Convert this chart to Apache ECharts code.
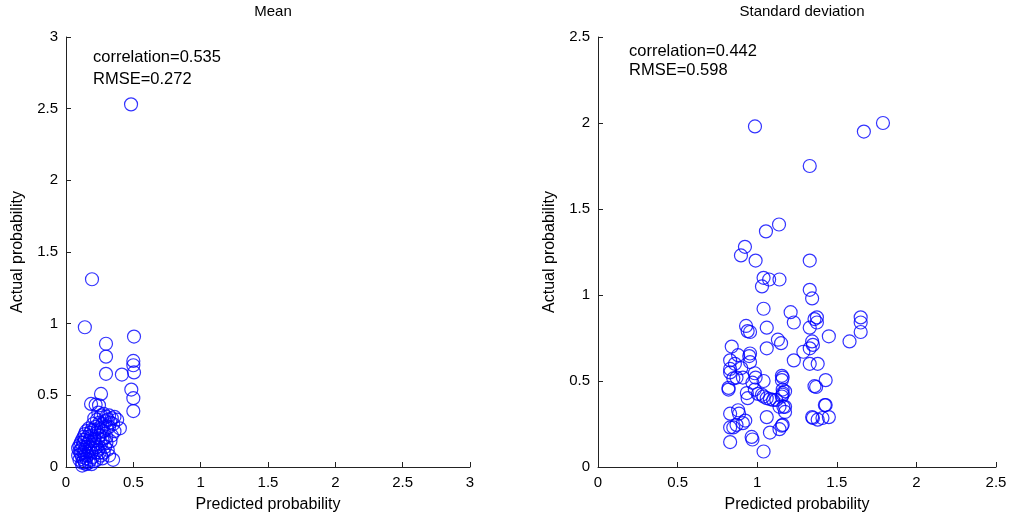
<!DOCTYPE html>
<html><head><meta charset="utf-8">
<script src="https://cdn.jsdelivr.net/npm/echarts@6/dist/echarts.min.js"></script>
<style>html,body{margin:0;padding:0;background:#fff}#c{width:1017px;height:521px}</style>
</head><body><div id="c"></div>
<script>
const titles = ["Mean", "Standard deviation"];
const statTexts = [["correlation=0.535", "RMSE=0.272"], ["correlation=0.442", "RMSE=0.598"]];
const xName = "Predicted probability";
const yName = "Actual probability";
const meanTicks = [0, 0.5, 1, 1.5, 2, 2.5, 3];
const sdTicks = [0, 0.5, 1, 1.5, 2, 2.5];

const meanPoints = [
[0.483,2.53],[0.193,1.31],[0.14,0.975],[0.505,0.91],[0.297,0.86],[0.297,0.77],[0.297,0.65],[0.50,0.74],[0.50,0.71],[0.505,0.66],[0.415,0.645],[0.485,0.54],[0.50,0.48],[0.50,0.39],[0.26,0.51],[0.186,0.44],[0.245,0.43],[0.22,0.435],
[0.24,0.38],[0.26,0.36],[0.28,0.37],[0.30,0.35],[0.32,0.36],[0.34,0.34],[0.36,0.35],[0.38,0.33],[0.33,0.31],[0.35,0.30],[0.31,0.33],[0.29,0.32],[0.27,0.30],[0.25,0.31],[0.23,0.33],[0.21,0.34],[0.20,0.30],[0.22,0.28],[0.24,0.27],[0.26,0.26],[0.28,0.25],[0.30,0.27],[0.32,0.28],[0.40,0.27],[0.36,0.25],[0.34,0.22],[0.30,0.21],[0.27,0.19],[0.25,0.22],[0.23,0.24],[0.19,0.26],[0.17,0.27],[0.15,0.25],[0.14,0.23],[0.13,0.21],[0.12,0.19],[0.11,0.17],[0.10,0.15],[0.09,0.13],[0.10,0.11],[0.11,0.09],[0.12,0.07],[0.13,0.05],[0.14,0.03],[0.15,0.02],[0.12,0.03],[0.13,0.10],[0.14,0.12],[0.15,0.14],[0.16,0.16],[0.17,0.18],[0.18,0.20],[0.19,0.22],[0.20,0.18],[0.21,0.20],[0.22,0.16],[0.23,0.14],[0.24,0.12],[0.25,0.10],[0.26,0.08],[0.27,0.06],[0.28,0.10],[0.29,0.14],[0.30,0.17],[0.31,0.12],[0.32,0.08],[0.35,0.05],[0.33,0.18],[0.18,0.14],[0.17,0.11],[0.16,0.08],[0.15,0.06],[0.18,0.05],[0.20,0.07],[0.21,0.04],[0.19,0.10],[0.20,0.13],[0.22,0.10],[0.10,0.05],[0.11,0.12],[0.12,0.14],[0.09,0.08],[0.13,0.17],[0.14,0.19],[0.16,0.21],[0.18,0.24],[0.21,0.26],[0.24,0.20],[0.26,0.16],[0.28,0.20],[0.12,0.01],[0.14,0.08],[0.17,0.03],[0.23,0.05],[0.19,0.02]
];

const sdPoints = [
[0.986,1.98],[1.67,1.95],[1.79,2.00],[1.33,1.75],[1.137,1.41],[1.055,1.37],[0.923,1.28],[0.898,1.23],[0.99,1.20],[1.33,1.20],
[1.04,1.10],[1.075,1.09],[1.14,1.09],[1.03,1.05],[1.33,1.03],[1.345,0.98],[1.04,0.92],[1.21,0.90],[1.23,0.84],[1.06,0.81],
[1.33,0.81],[1.36,0.86],[1.375,0.87],[1.375,0.84],[0.93,0.82],[0.94,0.79],[0.955,0.785],[1.13,0.74],[1.15,0.72],[0.84,0.70],
[1.345,0.73],[1.35,0.71],[1.33,0.69],[1.29,0.67],[1.06,0.69],[0.955,0.66],[0.95,0.645],[0.88,0.65],[0.83,0.62],[0.955,0.61],
[1.23,0.62],[1.33,0.60],[1.38,0.60],[1.65,0.87],[1.65,0.84],[1.65,0.785],[1.58,0.73],[1.45,0.76],[1.43,0.505],[1.36,0.47],
[1.37,0.465],[1.43,0.36],[1.345,0.29],[1.38,0.275],[1.41,0.285],[1.45,0.29],[1.16,0.52],[1.16,0.45],[1.16,0.42],[1.175,0.35],
[1.175,0.32],[1.16,0.245],[0.83,0.55],[0.90,0.575],[0.87,0.52],[0.85,0.515],[0.82,0.46],[0.82,0.45],[0.91,0.52],[0.985,0.545],
[0.99,0.52],[0.97,0.49],[1.04,0.50],[1.155,0.53],[1.155,0.505],[0.985,0.45],[1.005,0.425],[1.03,0.42],[1.04,0.41],[1.06,0.40],
[1.08,0.395],[1.10,0.39],[1.12,0.39],[1.155,0.41],[1.175,0.44],[1.16,0.43],[1.14,0.35],[1.165,0.35],[0.935,0.43],[0.94,0.40],
[0.88,0.33],[0.886,0.31],[0.83,0.31],[0.925,0.27],[0.91,0.255],[0.87,0.245],[0.85,0.23],[0.83,0.23],[1.06,0.29],[0.965,0.175],
[0.97,0.16],[1.08,0.20],[1.155,0.24],[1.14,0.22],[0.83,0.145],[1.04,0.09],[1.35,0.285],[1.425,0.36],[0.83,0.57],[0.86,0.60]
];

const FONT = "Liberation Sans";
const chart = echarts.init(document.getElementById('c'), null, {renderer: 'canvas'});

function axisCommon(ticks, name, gap, rotate) {
  return {
    type: 'value', min: ticks[0], max: ticks[ticks.length - 1], interval: ticks[1] - ticks[0],
    name: name, nameLocation: 'middle', nameGap: gap, nameRotate: rotate,
    nameTextStyle: {color: '#000', fontFamily: FONT, fontSize: 16},
    axisLine: {show: true, onZero: false, lineStyle: {color: '#222', width: 1}},
    axisTick: {show: true, inside: true, length: 5, lineStyle: {color: '#222'}},
    axisLabel: {color: '#000', fontFamily: FONT, fontSize: 15, margin: 8},
    splitLine: {show: false}
  };
}

const markerStyle = {color: 'transparent', borderColor: '#0000ff', borderWidth: 1.2};
const statFont = '16.5px "Liberation Sans"';

chart.setOption({
  animation: false,
  backgroundColor: '#fff',
  title: [
    {text: titles[0], left: 268, top: -1, textAlign: 'center', textStyle: {fontFamily: FONT, fontSize: 15, fontWeight: 'normal', color: '#000'}},
    {text: titles[1], left: 797, top: -1, textAlign: 'center', textStyle: {fontFamily: FONT, fontSize: 15, fontWeight: 'normal', color: '#000'}}
  ],
  grid: [
    {left: 66, right: 547, top: 37, bottom: 54},
    {left: 598, right: 21, top: 37, bottom: 54}
  ],
  xAxis: [
    Object.assign(axisCommon(meanTicks, xName, 30, 0), {gridIndex: 0}),
    Object.assign(axisCommon(sdTicks, xName, 30, 0), {gridIndex: 1})
  ],
  yAxis: [
    Object.assign(axisCommon(meanTicks, yName, 40, 90), {gridIndex: 0}),
    Object.assign(axisCommon(sdTicks, yName, 40, 90), {gridIndex: 1})
  ],
  graphic: [
    {type: 'text', left: 93, top: 49, style: {text: statTexts[0][0], font: statFont, fill: '#000'}},
    {type: 'text', left: 93, top: 71, style: {text: statTexts[0][1], font: statFont, fill: '#000'}},
    {type: 'text', left: 629, top: 43, style: {text: statTexts[1][0], font: statFont, fill: '#000'}},
    {type: 'text', left: 629, top: 62, style: {text: statTexts[1][1], font: statFont, fill: '#000'}}
  ],
  series: [
    {type: 'scatter', xAxisIndex: 0, yAxisIndex: 0, data: meanPoints, symbol: 'circle', symbolSize: 13, itemStyle: markerStyle, emphasis: {disabled: true}},
    {type: 'scatter', xAxisIndex: 1, yAxisIndex: 1, data: sdPoints, symbol: 'circle', symbolSize: 13, itemStyle: markerStyle, emphasis: {disabled: true}}
  ]
});
</script>
</body></html>
